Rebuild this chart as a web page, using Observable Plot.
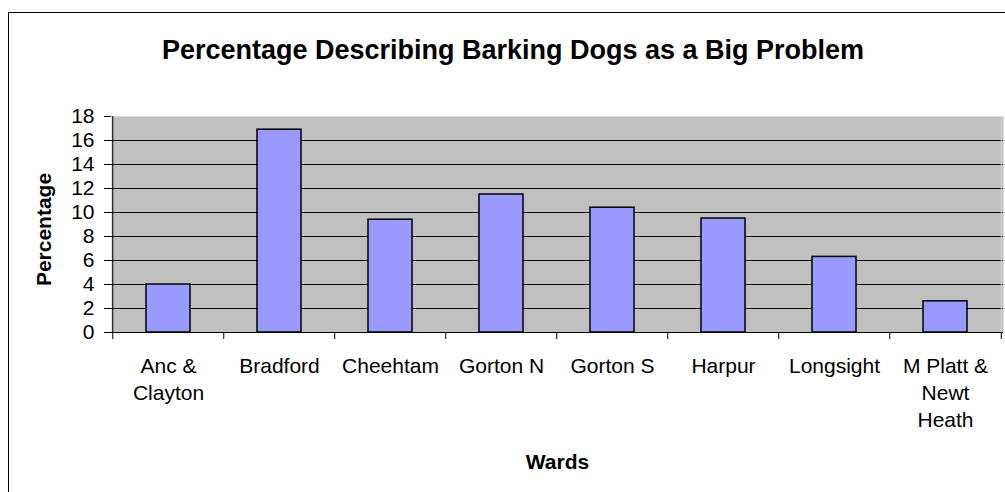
<!DOCTYPE html>
<html>
<head>
<meta charset="utf-8">
<script src="https://cdn.jsdelivr.net/npm/d3@7"></script>
<script src="https://cdn.jsdelivr.net/npm/@observablehq/plot@0.6"></script>
<style>
  html, body { margin: 0; padding: 0; background: #fff; overflow: hidden; }
  #wrap { position: relative; width: 1005px; height: 492px; overflow: hidden; }
  #border { position: absolute; left: 8px; top: 12px; width: 1100px; height: 600px; border: 1px solid #000; box-sizing: border-box; pointer-events: none; }
  svg { font-family: "Liberation Sans", Arial, sans-serif; }
</style>
</head>
<body>
<div id="wrap"><div id="border"></div><div id="chart"></div></div>
<script>
const titleText = "Percentage Describing Barking Dogs as a Big Problem";
const xTitle = "Wards";
const yTitle = "Percentage";
const wards = ["Anc &\nClayton", "Bradford", "Cheehtam", "Gorton N", "Gorton S", "Harpur", "Longsight", "M Platt &\nNewt\nHeath"];
const percentages = [4.0, 16.9, 9.4, 11.5, 10.4, 9.5, 6.3, 2.6];
const yTicks = [0, 2, 4, 6, 8, 10, 12, 14, 16, 18];

const data = wards.map((w, i) => ({ward: w, value: percentages[i]}));

const W = 1005, H = 492;
const mL = 111, mR = 2, mT = 116, mB = 160;
const step = (W - mL - mR) / wards.length;
const first = wards[0], last = wards[wards.length - 1];

const chart = Plot.plot({
  width: W,
  height: H,
  marginLeft: mL,
  marginRight: mR,
  marginTop: mT,
  marginBottom: mB,
  style: {fontFamily: "'Liberation Sans', Arial, sans-serif", color: "#000", background: "transparent", overflow: "visible"},
  x: {type: "band", domain: wards, paddingInner: 0.6, paddingOuter: 0.3, axis: null},
  y: {domain: [0, 18], axis: null},
  marks: [
    Plot.frame({fill: "#c0c0c0", stroke: null}),
    Plot.ruleY(yTicks.filter(t => t < 18), {stroke: "#000", strokeWidth: 1}),
    Plot.ruleY([18], {stroke: "#d8d8d8", strokeWidth: 1}),
    Plot.ruleX([last], {dx: step / 2, y1: 0, y2: 18, stroke: "#d8d8d8"}),
    Plot.barY(data, {x: "ward", y: "value", fill: "#9999ff", stroke: "#000", strokeWidth: 1.5}),
    // left axis line
    Plot.ruleX([first], {dx: -step / 2, y1: 0, y2: 18, stroke: "#000"}),
    // category boundary ticks
    Plot.ruleX(wards, {dx: -step / 2, y1: 0, y2: 0, insetBottom: -7, stroke: "#000"}),
    Plot.ruleX([last], {dx: step / 2, y1: 0, y2: 0, insetBottom: -7, stroke: "#000"}),
    Plot.axisY({ticks: yTicks, tickSize: 7, tickPadding: 10, fontSize: 21, label: null, tickFormat: d => String(d)}),
    Plot.axisX({tickSize: 0, tickPadding: 21, fontSize: 21, lineHeight: 1.286, label: null}),
    Plot.text([yTitle], {frameAnchor: "left", text: d => d, rotate: -90, textAnchor: "middle", lineAnchor: "middle", dx: -67, dy: 5, fontSize: 21, fontWeight: "bold", fill: "#000"}),
    Plot.text([xTitle], {frameAnchor: "bottom", text: d => d, lineAnchor: "bottom", dy: 136, fontSize: 21, fontWeight: "bold", fill: "#000"}),
    Plot.text([titleText], {frameAnchor: "top", text: d => d, lineAnchor: "bottom", dy: -58, dx: -44.5, fontSize: 27, fontWeight: "bold", fill: "#000"})
  ]
});
document.getElementById("chart").appendChild(chart);
</script>
</body>
</html>
